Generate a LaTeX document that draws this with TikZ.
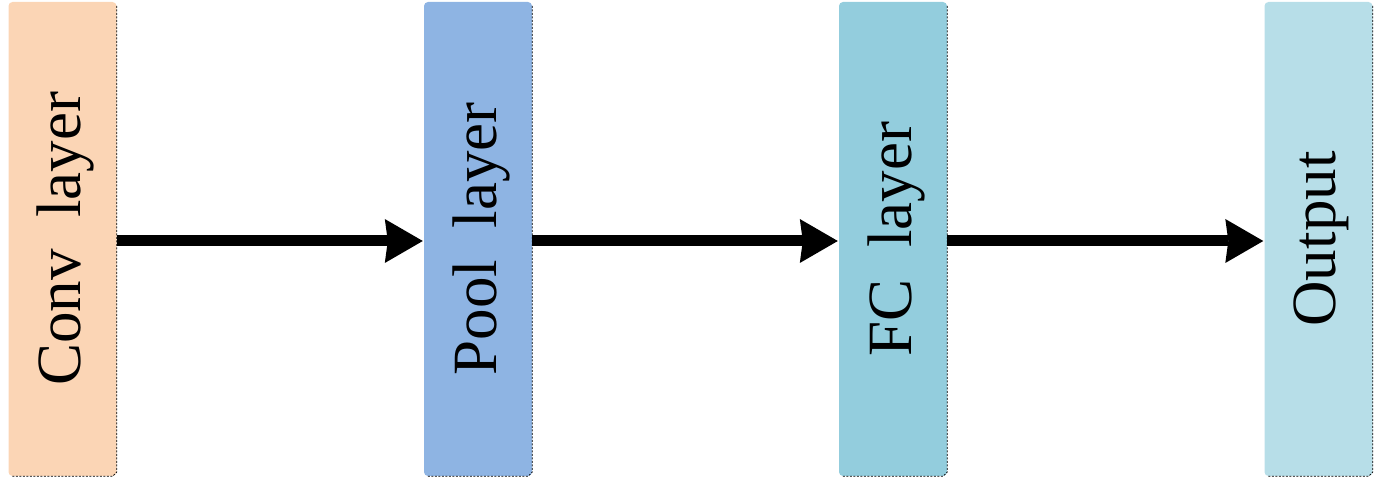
\documentclass[tikz,border=0pt]{standalone}
\usepackage{fontspec}
\setmainfont{Liberation Serif}
\usetikzlibrary{arrows.meta}
\definecolor{convc}{HTML}{FBD5B5}
\definecolor{poolc}{HTML}{8EB4E3}
\definecolor{fcc}{HTML}{93CDDD}
\definecolor{outc}{HTML}{B7DEE8}
\tikzset{
  layerbox/.style={rectangle, rounded corners=4pt, minimum width=108pt, minimum height=474pt, inner sep=0pt,
    font=\fontsize{63}{63}\selectfont, text=black},
  edgeline/.style={draw=black, line width=0.8pt, dash pattern=on 2pt off 1.5pt},
  flow/.style={line width=11pt, draw=black, -{Stealth[length=38pt,width=44pt,inset=3pt,line width=0pt]}, shorten >=1pt}
}
\begin{document}
\begin{tikzpicture}[x=1pt,y=1pt]
\useasboundingbox (0,0) rectangle (1397,481);
\node[layerbox, fill=convc] (conv) at (62.5,242) {};
\node[layerbox, fill=poolc] (pool) at (478,242) {};
\node[layerbox, fill=fcc] (fc) at (893,242) {};
\node[layerbox, fill=outc] (out) at (1318.5,242) {};
\foreach \n in {conv,pool,fc,out}{
  \draw[edgeline] ([yshift=-4pt]\n.north east) -- ([yshift=4pt]\n.south east) -- ([xshift=-4pt]\n.south east) -- ([xshift=4pt]\n.south west);
}
\node[rotate=90, font=\fontsize{63}{63}\selectfont] (convt) at ([xshift=3pt]conv.center) {Conv\ \ layer};
\node[rotate=90, font=\fontsize{63}{63}\selectfont] (poolt) at ([xshift=3pt]pool.center) {Pool\ \ layer};
\node[rotate=90, font=\fontsize{63}{63}\selectfont] (fct) at ([xshift=3pt]fc.center) {FC\ \ layer};
\node[rotate=90, font=\fontsize{63}{63}\selectfont] (outt) at ([xshift=3pt]out.center) {Output};
\draw[flow] ([yshift=-2pt]conv.east) -- ([yshift=-2pt]pool.west);
\draw[flow] ([yshift=-2pt]pool.east) -- ([yshift=-2pt]fc.west);
\draw[flow] ([yshift=-2pt]fc.east) -- ([yshift=-2pt]out.west);
\end{tikzpicture}
\end{document}
